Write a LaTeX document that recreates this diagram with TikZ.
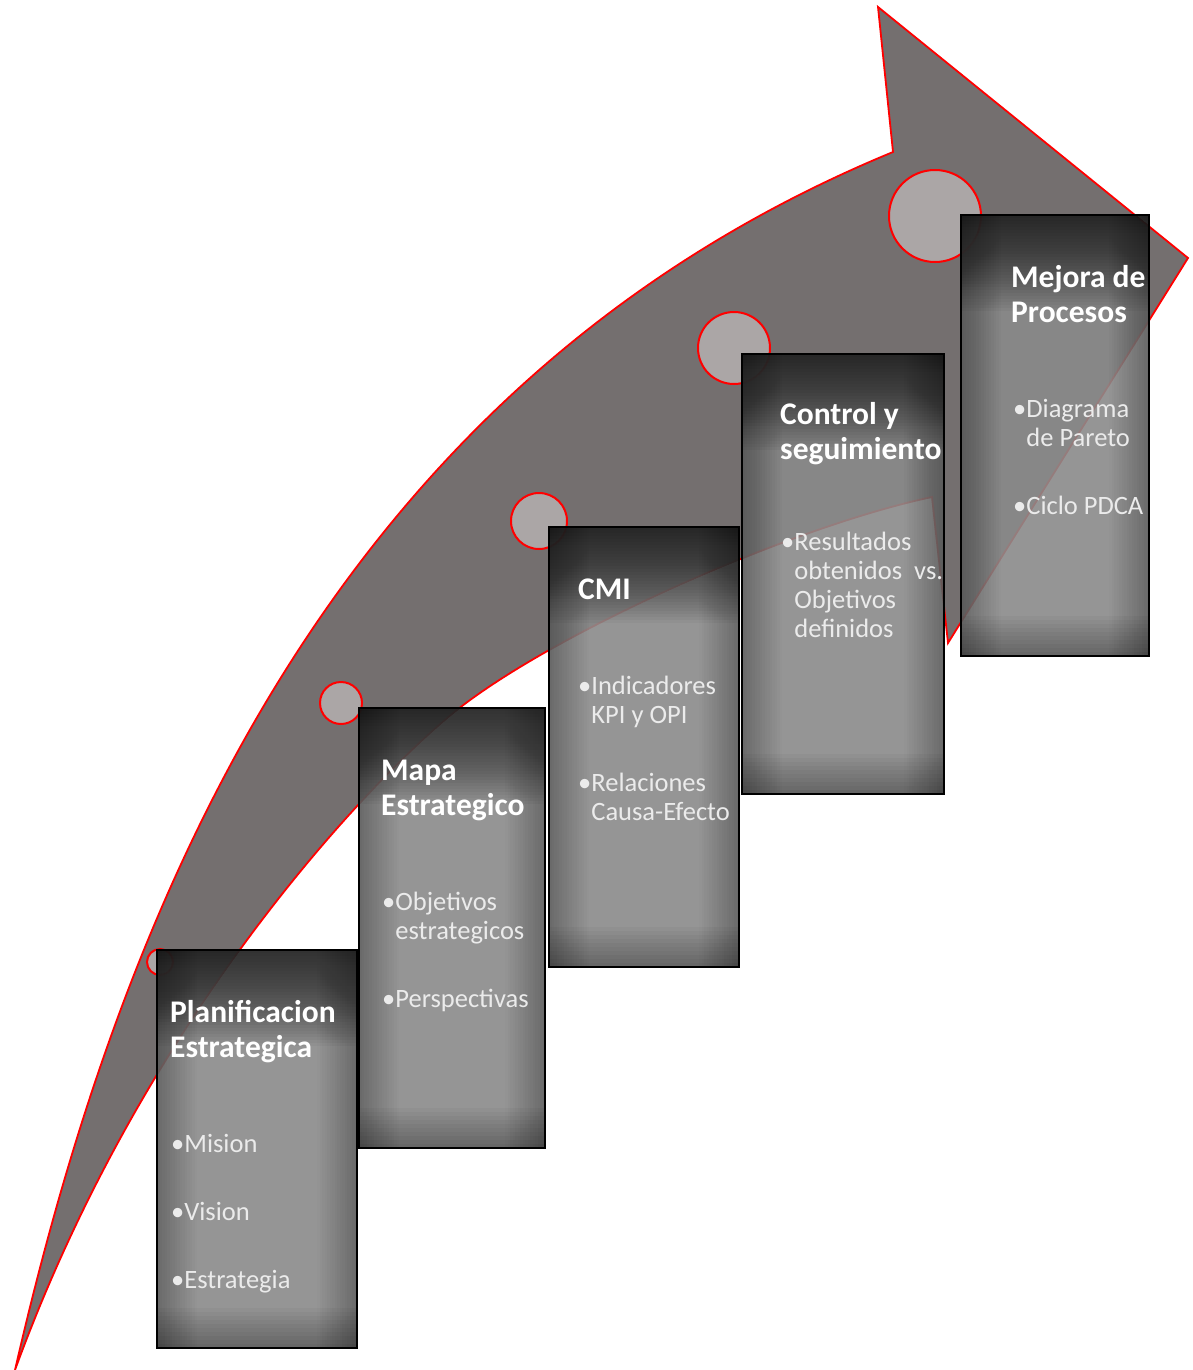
\documentclass[tikz,border=0pt]{standalone}
\usepackage{fontspec}
\setmainfont{Carlito}
\usetikzlibrary{calc}

\definecolor{arrowgray}{RGB}{116,111,111}
\definecolor{dotgray}{RGB}{171,166,166}
\definecolor{boxmid}{RGB}{138,138,138}

\tikzset{
  stepbox/.style={anchor=north west, draw=black, line width=2.4pt, fill=boxmid, fill opacity=0.9,
    path picture={
      % dark band at the top
      \foreach \k in {1,...,32}
        \fill[black, fill opacity=0.032] (path picture bounding box.north west)
          rectangle ($(path picture bounding box.north east)+(0,3*\k)$);
      % dark sides
      \foreach \k in {1,...,16} {
        \fill[black, fill opacity=0.02] (path picture bounding box.north west)
          rectangle ($(path picture bounding box.south west)+(2.5*\k,0)$);
        \fill[black, fill opacity=0.02] (path picture bounding box.north east)
          rectangle ($(path picture bounding box.south east)+(-2.5*\k,0)$);
      }
      % darker bottom
      \foreach \k in {1,...,10}
        \fill[black, fill opacity=0.03] (path picture bounding box.south west)
          rectangle ($(path picture bounding box.south east)+(0,-4*\k)$);
    }},
  steptitle/.style={anchor=base west, inner sep=0pt, align=left, text=white,
    font=\fontsize{31.5}{35}\selectfont\bfseries},
  stepitems/.style={anchor=base west, inner sep=0pt, align=left, text=white!92!black,
    font=\fontsize{26.5}{29}\selectfont},
  dot/.style={draw=red, line width=2pt, fill=dotgray}
}

\begin{document}
\begin{tikzpicture}[x=1pt,y=-1pt]
\useasboundingbox (0,0) rectangle (1192,1370);

% Big curved arrow
\draw[red, line width=1.8pt, fill=arrowgray]
  (15,1370) .. controls (125,890) and (340,380) .. (893,152)
  -- (878,7) -- (1188,258) -- (948,643) -- (932,497)
  .. controls (800,525) and (575,622) .. (466,703)
  .. controls (390,760) and (150,1000) .. (15,1370) -- cycle;

% Dots on the arrow
\draw[dot] (160,962) circle (13);
\draw[dot] (341,703) circle (21);
\draw[dot] (539,521) circle (28);
\draw[dot] (734,348) circle (36);
\draw[dot] (935,216) circle (46);

% Steps (base of a text node = its last line)
\node[stepbox, minimum width=200, minimum height=398] (plan) at (156,949) {};
\node[steptitle] (plan-t) at ($(plan.north west)+(14,108)$) {Planificacion\\Estrategica};
\node[stepitems] (plan-i) at ($(plan.north west)+(15,339)$) {•Mision\\[39pt]•Vision\\[39pt]•Estrategia};

\node[stepbox, minimum width=186, minimum height=440] (mapa) at (358,707) {};
\node[steptitle] (mapa-t) at ($(mapa.north west)+(23,108)$) {Mapa\\Estrategico};
\node[stepitems] (mapa-i) at ($(mapa.north west)+(24,300)$) {•Objetivos\\\hphantom{•}estrategicos\\[39pt]•Perspectivas};

\node[stepbox, minimum width=190, minimum height=440] (cmi) at (548,526) {};
\node[steptitle] (cmi-t) at ($(cmi.north west)+(30,73)$) {CMI};
\node[stepitems] (cmi-i) at ($(cmi.north west)+(30,294)$) {•Indicadores\\\hphantom{•}KPI y OPI\\[39pt]•Relaciones\\\hphantom{•}Causa-Efecto};

\node[stepbox, minimum width=202, minimum height=440] (control) at (741,353) {};
\node[steptitle] (control-t) at ($(control.north west)+(39,106)$) {Control y\\seguimiento};
\node[stepitems] (control-i) at ($(control.north west)+(40,284)$) {•Resultados\\\hphantom{•}obtenidos\ \ vs.\\\hphantom{•}Objetivos\\\hphantom{•}definidos};

\node[stepbox, minimum width=188, minimum height=441] (mejora) at (960,214) {};
\node[steptitle] (mejora-t) at ($(mejora.north west)+(51,108)$) {Mejora de\\Procesos};
\node[stepitems] (mejora-i) at ($(mejora.north west)+(53,300)$) {•Diagrama\\\hphantom{•}de Pareto\\[39pt]•Ciclo PDCA};
\end{tikzpicture}
\end{document}
